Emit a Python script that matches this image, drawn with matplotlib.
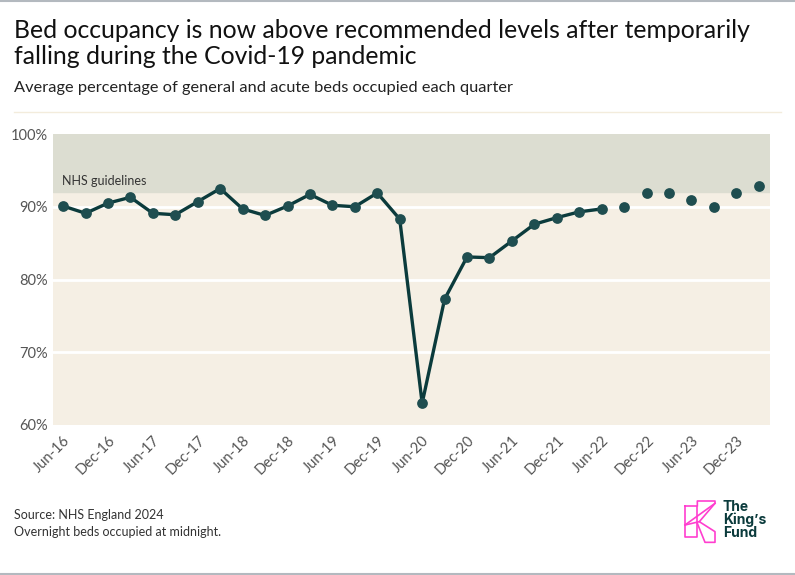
import matplotlib
matplotlib.use("Agg")
import matplotlib.pyplot as plt
from matplotlib.lines import Line2D

plt.rcParams["font.family"] = ["Lato", "DejaVu Sans"]

# quarter labels, Jun-16 to Mar-24
quarters = ["Jun-16", "Sep-16", "Dec-16", "Mar-17", "Jun-17", "Sep-17", "Dec-17", "Mar-18",
            "Jun-18", "Sep-18", "Dec-18", "Mar-19", "Jun-19", "Sep-19", "Dec-19", "Mar-20",
            "Jun-20", "Sep-20", "Dec-20", "Mar-21", "Jun-21", "Sep-21", "Dec-21", "Mar-22",
            "Jun-22", "Sep-22", "Dec-22", "Mar-23", "Jun-23", "Sep-23", "Dec-23", "Mar-24"]

# connected series (Jun-16 .. Jun-22)
occupancy_line = [90.1, 89.1, 90.5, 91.3, 89.1, 88.9, 90.7, 92.5,
                  89.7, 88.8, 90.1, 91.7, 90.2, 90.0, 91.9, 88.3,
                  63.0, 77.3, 83.1, 83.0, 85.3, 87.6, 88.5, 89.3, 89.7]
# later quarters shown as points only (Sep-22 .. Mar-24)
occupancy_recent = [90.0, 91.9, 91.9, 90.9, 89.9, 91.9, 92.9]

guideline = 92

dark = "#0b3b3c"
marker_col = "#1f4e50"

fig = plt.figure(figsize=(7.95, 5.75), dpi=100)
ax = fig.add_axes([53 / 795, 1 - 425 / 575, 717 / 795, 291 / 575])

x_line = list(range(len(occupancy_line)))
x_recent = list(range(len(occupancy_line), len(quarters)))

ax.axhspan(60, guideline, color="#f5efe4", zorder=0)
ax.axhspan(guideline, 100, color="#dcddd1", zorder=0)
for g in [70, 80, 90]:
    ax.axhline(g, color="white", lw=2, zorder=1)

ax.plot(x_line, occupancy_line, color=dark, lw=2.4, zorder=3)
ax.scatter(x_line, occupancy_line, s=60, color=marker_col, zorder=4, linewidths=0)
ax.scatter(x_recent, occupancy_recent, s=60, color=marker_col, zorder=4, linewidths=0)

ax.text(-0.03, guideline + 0.7, "NHS guidelines", fontsize=9, color="#333333", va="bottom")

ax.set_xlim(-0.45, 31.5)
ax.set_ylim(60, 100)
ax.set_yticks([60, 70, 80, 90, 100])
ax.set_yticklabels([f"{v}%" for v in [60, 70, 80, 90, 100]])
ax.set_xticks(range(0, len(quarters), 2))
ax.set_xticklabels(quarters[::2], rotation=45, ha="right", rotation_mode="anchor")
ax.tick_params(length=0, labelsize=10.5, labelcolor="#555555")
ax.tick_params(axis="x", pad=6)
ax.tick_params(axis="y", pad=4)
for s in ax.spines.values():
    s.set_visible(False)

# titles
fig.text(14 / 795, 1 - 38 / 575, "Bed occupancy is now above recommended levels after temporarily",
         fontsize=17.8, color="#111111", va="baseline")
fig.text(14 / 795, 1 - 64 / 575, "falling during the Covid-19 pandemic",
         fontsize=17.8, color="#111111", va="baseline")
fig.text(14 / 795, 1 - 92 / 575, "Average percentage of general and acute beds occupied each quarter",
         fontsize=11.8, color="#222222", va="baseline")

# separator and frame lines
fig.add_artist(Line2D([14 / 795, 781 / 795], [1 - 112 / 575] * 2, color="#f3ecdc", lw=1))
fig.add_artist(Line2D([0, 1], [1 - 0.5 / 575] * 2, color="#b3b9bf", lw=1.5))
fig.add_artist(Line2D([0, 1], [1 - 573.5 / 575] * 2, color="#b3b9bf", lw=1.5))

# footer
fig.text(14 / 795, 1 - 519 / 575, "Source: NHS England 2024", fontsize=9, color="#333333", va="baseline")
fig.text(14 / 795, 1 - 536 / 575, "Overnight beds occupied at midnight.", fontsize=9, color="#333333", va="baseline")

# logo
pink = "#ff3ecf"
def fx(v):
    return (660 + v / 3) / 795
def fy(v):
    return 1 - (490 + v / 3) / 575
logo_paths = [
    [(75, 47), (112, 47), (112, 140), (75, 140), (75, 47)],
    [(112, 47), (112, 33), (165, 33), (165, 40), (118, 95), (165, 125), (165, 157), (135, 157), (112, 100)],
    [(75, 105), (165, 40)],
    [(75, 105), (118, 95)],
]
for path in logo_paths:
    xs = [fx(p[0]) for p in path]
    ys = [fy(p[1]) for p in path]
    fig.add_artist(Line2D(xs, ys, color=pink, lw=1.2))
fig.text(fx(188), fy(30), "The\nKing\u2019s\nFund", fontsize=10, fontweight="bold",
         color=dark, va="top", linespacing=0.88, family=["Inter", "DejaVu Sans"])

fig.savefig("out.png", dpi=100)
